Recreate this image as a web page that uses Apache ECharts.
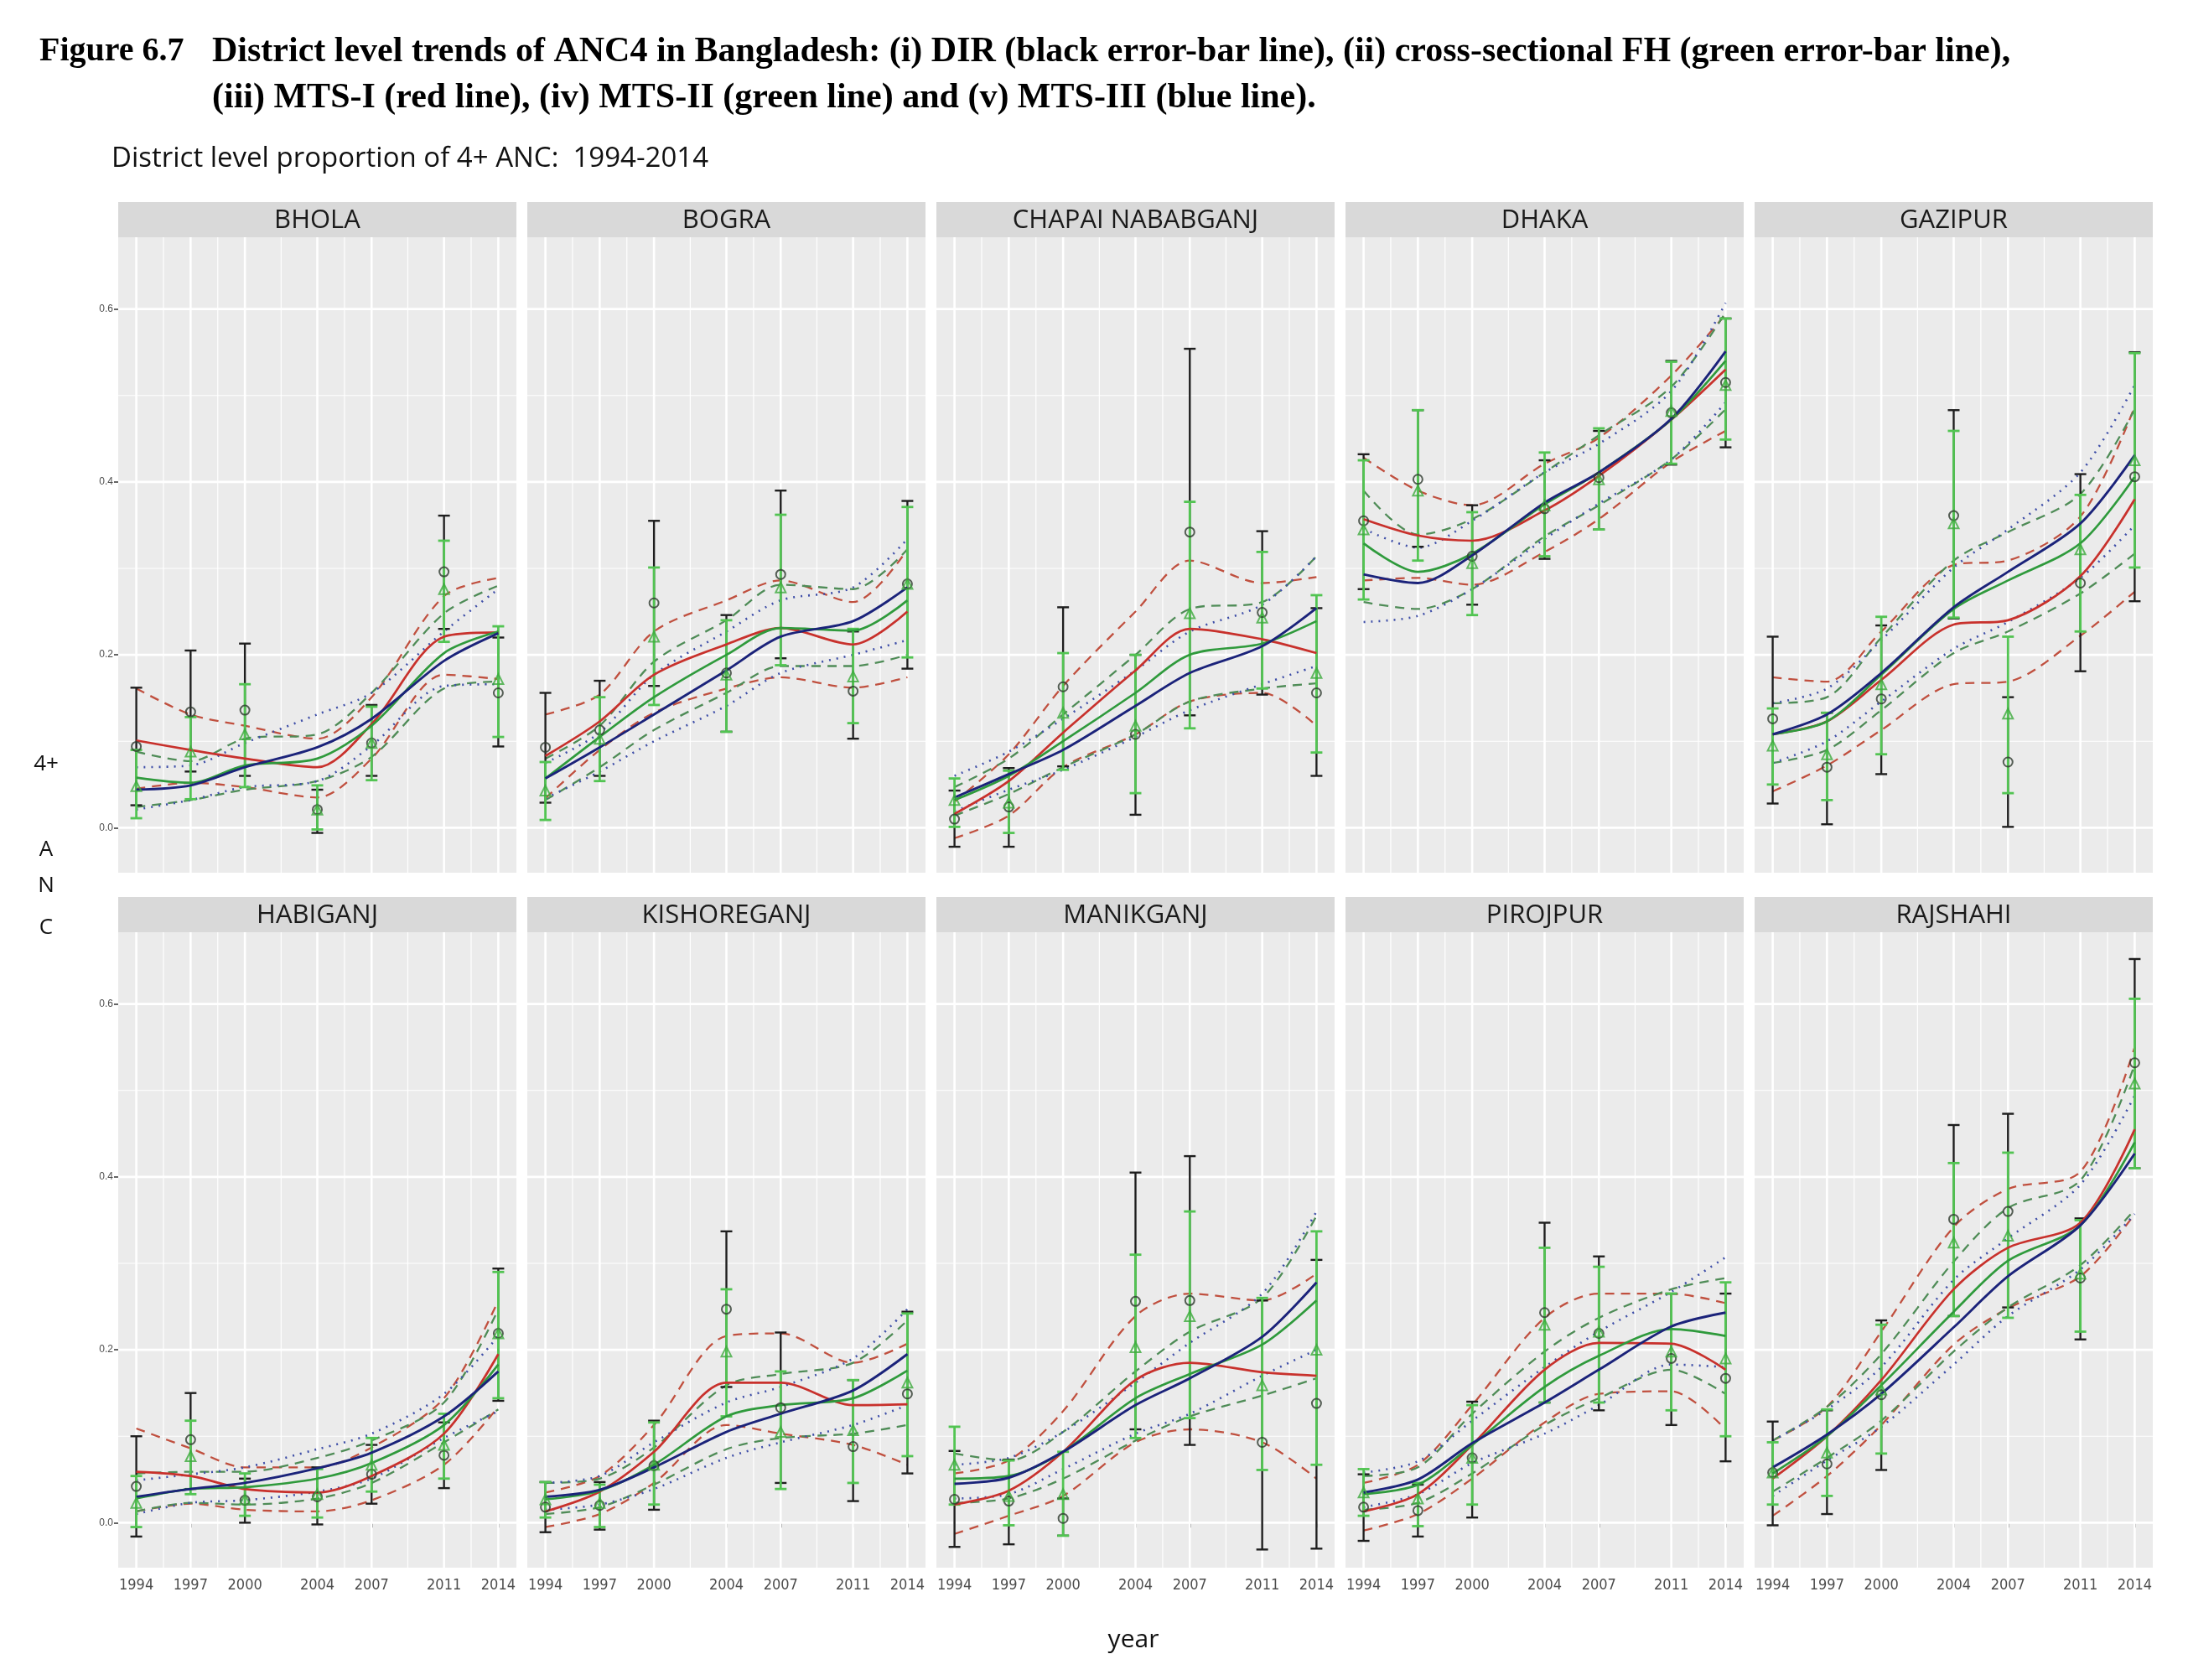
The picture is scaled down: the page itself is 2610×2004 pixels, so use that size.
<!DOCTYPE html>
<html>
<head>
<meta charset="utf-8">
<title>District level trends of ANC4 in Bangladesh</title>
<script src="https://cdn.jsdelivr.net/npm/echarts@6/dist/echarts.min.js"></script>
<style>
  html, body { margin: 0; padding: 0; background: #fff; }
  #chart { width: 2610px; height: 2004px; }
</style>
</head>
<body>
<div id="chart"></div>
<script>
// survey years and axis breaks
const districts = ['BHOLA', 'BOGRA', 'CHAPAI NABABGANJ', 'DHAKA', 'GAZIPUR',
  'HABIGANJ', 'KISHOREGANJ', 'MANIKGANJ', 'PIROJPUR', 'RAJSHAHI'];
const years = [1994, 1997, 2000, 2004, 2007, 2011, 2014];
const minorYears = [1995.5, 1998.5, 2002, 2005.5, 2009, 2012.5];
const yTicks = [0, 0.2, 0.4, 0.6];
const yMinor = [0.1, 0.3, 0.5];

// DIR (black error bars, circles) - one row per district
const dirEst = [
  [0.094, 0.134, 0.136, 0.021, 0.098, 0.296, 0.156],
  [0.093, 0.113, 0.26, 0.179, 0.293, 0.158, 0.282],
  [0.01, 0.024, 0.163, 0.108, 0.342, 0.249, 0.156],
  [0.355, 0.403, 0.314, 0.369, 0.405, 0.48, 0.515],
  [0.126, 0.07, 0.149, 0.361, 0.076, 0.283, 0.406],
  [0.042, 0.096, 0.026, 0.03, 0.056, 0.078, 0.219],
  [0.018, 0.02, 0.066, 0.247, 0.133, 0.088, 0.149],
  [0.027, 0.025, 0.005, 0.256, 0.257, 0.093, 0.138],
  [0.018, 0.014, 0.075, 0.243, 0.219, 0.19, 0.167],
  [0.058, 0.068, 0.148, 0.351, 0.36, 0.283, 0.532]
];
const dirLow = [
  [0.026, 0.065, 0.06, -0.006, 0.06, 0.23, 0.094],
  [0.029, 0.06, 0.164, 0.111, 0.196, 0.103, 0.184],
  [-0.022, -0.022, 0.071, 0.015, 0.13, 0.154, 0.06],
  [0.276, 0.325, 0.258, 0.311, 0.345, 0.42, 0.44],
  [0.028, 0.004, 0.062, 0.242, 0.001, 0.181, 0.262],
  [-0.016, 0.039, 0.0, -0.002, 0.022, 0.04, 0.141],
  [-0.011, -0.008, 0.015, 0.157, 0.046, 0.025, 0.057],
  [-0.028, -0.025, -0.015, 0.108, 0.09, -0.031, -0.03],
  [-0.021, -0.016, 0.006, 0.139, 0.13, 0.113, 0.071],
  [-0.003, 0.01, 0.061, 0.239, 0.249, 0.212, 0.41]
];
const dirHigh = [
  [0.162, 0.205, 0.213, 0.044, 0.142, 0.361, 0.22],
  [0.156, 0.17, 0.355, 0.246, 0.39, 0.227, 0.378],
  [0.043, 0.069, 0.255, 0.2, 0.554, 0.343, 0.254],
  [0.432, 0.483, 0.373, 0.425, 0.459, 0.54, 0.589],
  [0.221, 0.133, 0.234, 0.483, 0.151, 0.409, 0.55],
  [0.1, 0.15, 0.051, 0.064, 0.09, 0.116, 0.294],
  [0.047, 0.047, 0.118, 0.337, 0.22, 0.165, 0.244],
  [0.083, 0.073, 0.028, 0.405, 0.424, 0.257, 0.304],
  [0.056, 0.044, 0.14, 0.347, 0.308, 0.265, 0.265],
  [0.117, 0.13, 0.234, 0.46, 0.473, 0.352, 0.652]
];

// cross-sectional FH (green error bars, triangles)
const fhEst = [
  [0.048, 0.088, 0.108, 0.021, 0.098, 0.276, 0.172],
  [0.043, 0.103, 0.221, 0.177, 0.278, 0.175, 0.282],
  [0.032, 0.029, 0.133, 0.118, 0.248, 0.243, 0.179],
  [0.345, 0.39, 0.306, 0.373, 0.403, 0.482, 0.512],
  [0.095, 0.085, 0.166, 0.352, 0.132, 0.322, 0.425],
  [0.023, 0.077, 0.027, 0.033, 0.067, 0.09, 0.219],
  [0.027, 0.023, 0.067, 0.198, 0.105, 0.107, 0.162],
  [0.067, 0.031, 0.033, 0.203, 0.239, 0.159, 0.2],
  [0.035, 0.028, 0.075, 0.229, 0.221, 0.198, 0.19],
  [0.058, 0.081, 0.154, 0.324, 0.332, 0.288, 0.508]
];
const fhLow = [
  [0.011, 0.033, 0.047, -0.002, 0.055, 0.215, 0.105],
  [0.009, 0.054, 0.142, 0.111, 0.188, 0.121, 0.197],
  [0.001, -0.006, 0.067, 0.04, 0.115, 0.161, 0.087],
  [0.264, 0.309, 0.246, 0.314, 0.345, 0.421, 0.449],
  [0.05, 0.032, 0.085, 0.243, 0.04, 0.227, 0.301],
  [-0.005, 0.033, 0.008, 0.006, 0.036, 0.051, 0.144],
  [0.006, -0.005, 0.021, 0.123, 0.039, 0.046, 0.077],
  [0.021, -0.003, -0.015, 0.098, 0.121, 0.061, 0.067],
  [0.008, -0.004, 0.021, 0.139, 0.139, 0.13, 0.1],
  [0.021, 0.031, 0.08, 0.239, 0.237, 0.221, 0.41]
];
const fhHigh = [
  [0.09, 0.128, 0.166, 0.049, 0.14, 0.332, 0.233],
  [0.076, 0.151, 0.301, 0.24, 0.362, 0.23, 0.371],
  [0.057, 0.066, 0.202, 0.2, 0.377, 0.319, 0.269],
  [0.425, 0.483, 0.365, 0.434, 0.462, 0.539, 0.589],
  [0.138, 0.133, 0.244, 0.459, 0.221, 0.385, 0.549],
  [0.054, 0.118, 0.057, 0.062, 0.098, 0.126, 0.29],
  [0.047, 0.044, 0.116, 0.27, 0.175, 0.165, 0.242],
  [0.111, 0.072, 0.082, 0.31, 0.36, 0.26, 0.337],
  [0.062, 0.046, 0.136, 0.318, 0.296, 0.265, 0.278],
  [0.093, 0.131, 0.229, 0.416, 0.428, 0.35, 0.606]
];

// MTS-I (red)
const mts1 = [
  [0.101, 0.09, 0.08, 0.07, 0.12, 0.221, 0.226],
  [0.083, 0.123, 0.177, 0.212, 0.231, 0.212, 0.25],
  [0.016, 0.054, 0.11, 0.182, 0.23, 0.218, 0.202],
  [0.357, 0.338, 0.332, 0.367, 0.407, 0.472, 0.53],
  [0.108, 0.123, 0.171, 0.235, 0.24, 0.291, 0.38],
  [0.059, 0.054, 0.039, 0.035, 0.054, 0.103, 0.195],
  [0.013, 0.036, 0.082, 0.162, 0.162, 0.136, 0.137],
  [0.021, 0.037, 0.082, 0.165, 0.185, 0.174, 0.17],
  [0.013, 0.033, 0.09, 0.177, 0.208, 0.207, 0.177],
  [0.051, 0.1, 0.165, 0.27, 0.318, 0.347, 0.455]
];
const mts1Low = [
  [0.045, 0.052, 0.047, 0.035, 0.08, 0.177, 0.172],
  [0.034, 0.09, 0.133, 0.161, 0.174, 0.162, 0.174],
  [-0.012, 0.014, 0.07, 0.108, 0.146, 0.156, 0.118],
  [0.286, 0.289, 0.281, 0.319, 0.357, 0.423, 0.459],
  [0.042, 0.072, 0.113, 0.166, 0.169, 0.222, 0.273],
  [0.013, 0.022, 0.015, 0.013, 0.026, 0.067, 0.134],
  [-0.005, 0.01, 0.046, 0.113, 0.103, 0.09, 0.067],
  [-0.013, 0.008, 0.031, 0.093, 0.108, 0.093, 0.051],
  [-0.009, 0.01, 0.051, 0.116, 0.149, 0.152, 0.108],
  [0.008, 0.054, 0.113, 0.206, 0.248, 0.285, 0.357]
];
const mts1High = [
  [0.161, 0.131, 0.118, 0.103, 0.151, 0.268, 0.289],
  [0.131, 0.154, 0.227, 0.263, 0.286, 0.261, 0.322],
  [0.03, 0.085, 0.164, 0.25, 0.309, 0.283, 0.29],
  [0.428, 0.39, 0.373, 0.421, 0.451, 0.523, 0.594],
  [0.174, 0.169, 0.227, 0.304, 0.309, 0.36, 0.487],
  [0.109, 0.086, 0.064, 0.064, 0.087, 0.144, 0.257],
  [0.035, 0.054, 0.113, 0.216, 0.219, 0.185, 0.207],
  [0.057, 0.072, 0.129, 0.239, 0.265, 0.257, 0.288],
  [0.046, 0.067, 0.136, 0.237, 0.265, 0.265, 0.254],
  [0.095, 0.134, 0.221, 0.342, 0.386, 0.406, 0.55]
];

// MTS-II (green)
const mts2 = [
  [0.058, 0.052, 0.072, 0.08, 0.118, 0.202, 0.227],
  [0.057, 0.105, 0.151, 0.2, 0.231, 0.228, 0.263],
  [0.032, 0.06, 0.1, 0.156, 0.2, 0.213, 0.239],
  [0.329, 0.296, 0.317, 0.374, 0.411, 0.472, 0.54],
  [0.108, 0.123, 0.177, 0.253, 0.286, 0.329, 0.406],
  [0.028, 0.039, 0.041, 0.051, 0.069, 0.113, 0.183],
  [0.027, 0.037, 0.067, 0.123, 0.136, 0.144, 0.176],
  [0.051, 0.054, 0.082, 0.144, 0.172, 0.206, 0.257],
  [0.033, 0.044, 0.09, 0.157, 0.193, 0.224, 0.216],
  [0.057, 0.1, 0.159, 0.244, 0.303, 0.344, 0.44]
];
const mts2Low = [
  [0.024, 0.032, 0.044, 0.054, 0.082, 0.161, 0.169],
  [0.032, 0.07, 0.113, 0.156, 0.187, 0.187, 0.2],
  [0.014, 0.039, 0.07, 0.108, 0.146, 0.161, 0.167],
  [0.261, 0.253, 0.276, 0.337, 0.373, 0.426, 0.484],
  [0.075, 0.09, 0.136, 0.202, 0.227, 0.271, 0.317],
  [0.013, 0.023, 0.021, 0.028, 0.046, 0.093, 0.131],
  [0.01, 0.018, 0.044, 0.085, 0.098, 0.103, 0.113],
  [0.023, 0.028, 0.051, 0.095, 0.123, 0.147, 0.167],
  [0.015, 0.023, 0.057, 0.113, 0.144, 0.177, 0.149],
  [0.036, 0.075, 0.118, 0.198, 0.249, 0.298, 0.362]
];
const mts2High = [
  [0.088, 0.077, 0.103, 0.108, 0.156, 0.248, 0.28],
  [0.08, 0.118, 0.192, 0.24, 0.281, 0.276, 0.322],
  [0.047, 0.08, 0.131, 0.2, 0.253, 0.261, 0.314],
  [0.39, 0.339, 0.357, 0.411, 0.454, 0.51, 0.596],
  [0.144, 0.151, 0.22, 0.309, 0.342, 0.386, 0.484],
  [0.057, 0.059, 0.059, 0.075, 0.095, 0.139, 0.247],
  [0.046, 0.051, 0.087, 0.159, 0.172, 0.185, 0.234],
  [0.08, 0.072, 0.105, 0.175, 0.221, 0.26, 0.355],
  [0.054, 0.064, 0.126, 0.198, 0.237, 0.27, 0.283],
  [0.095, 0.134, 0.195, 0.302, 0.364, 0.396, 0.53]
];

// MTS-III (blue)
const mts3 = [
  [0.044, 0.049, 0.07, 0.093, 0.126, 0.193, 0.225],
  [0.057, 0.093, 0.131, 0.182, 0.221, 0.239, 0.278],
  [0.035, 0.062, 0.09, 0.141, 0.179, 0.21, 0.254],
  [0.293, 0.283, 0.315, 0.376, 0.411, 0.473, 0.551],
  [0.108, 0.131, 0.179, 0.255, 0.296, 0.352, 0.431],
  [0.03, 0.039, 0.046, 0.063, 0.081, 0.123, 0.175],
  [0.03, 0.038, 0.064, 0.105, 0.126, 0.153, 0.195],
  [0.045, 0.052, 0.082, 0.136, 0.167, 0.215, 0.278],
  [0.035, 0.05, 0.092, 0.139, 0.177, 0.227, 0.243],
  [0.064, 0.102, 0.149, 0.226, 0.285, 0.344, 0.427]
];
const mts3Low = [
  [0.021, 0.032, 0.047, 0.054, 0.095, 0.164, 0.166],
  [0.034, 0.065, 0.1, 0.141, 0.179, 0.2, 0.217],
  [0.019, 0.044, 0.067, 0.105, 0.136, 0.166, 0.187],
  [0.238, 0.245, 0.276, 0.334, 0.375, 0.426, 0.492],
  [0.075, 0.1, 0.146, 0.207, 0.238, 0.289, 0.35],
  [0.01, 0.023, 0.026, 0.036, 0.051, 0.098, 0.129],
  [0.015, 0.021, 0.039, 0.075, 0.093, 0.113, 0.136],
  [0.028, 0.033, 0.062, 0.103, 0.126, 0.17, 0.2],
  [0.018, 0.033, 0.069, 0.103, 0.136, 0.183, 0.18],
  [0.031, 0.072, 0.111, 0.183, 0.239, 0.293, 0.357]
];
const mts3High = [
  [0.07, 0.072, 0.098, 0.131, 0.156, 0.227, 0.276],
  [0.075, 0.11, 0.177, 0.227, 0.263, 0.278, 0.334],
  [0.06, 0.088, 0.126, 0.182, 0.227, 0.258, 0.314],
  [0.346, 0.324, 0.355, 0.411, 0.444, 0.505, 0.607],
  [0.144, 0.161, 0.217, 0.301, 0.345, 0.411, 0.512],
  [0.049, 0.056, 0.064, 0.085, 0.103, 0.149, 0.216],
  [0.046, 0.054, 0.093, 0.139, 0.157, 0.19, 0.247],
  [0.067, 0.075, 0.105, 0.162, 0.208, 0.265, 0.36],
  [0.058, 0.071, 0.118, 0.18, 0.221, 0.267, 0.307],
  [0.095, 0.131, 0.18, 0.281, 0.329, 0.391, 0.494]
];

const chart = echarts.init(document.getElementById('chart'))

const panelLeft = 141, panelStep = 488, panelWidth = 475, panelHeight = 758
const rowTop = [283, 1112]
const stripHeight = 42

function pairs(vals) {
  return years.map((y, j) => [y, vals[j]])
}
function bars(lo, hi) {
  return years.map((y, j) => [y, lo[j], hi[j]])
}

// error bar with caps, drawn through the axis scales
function errorBar(color, width) {
  return function (params, api) {
    const lo = api.coord([api.value(0), api.value(1)])
    const hi = api.coord([api.value(0), api.value(2)])
    const cap = 7
    const style = { stroke: color, lineWidth: width }
    return {
      type: 'group',
      children: [
        { type: 'line', shape: { x1: lo[0], y1: lo[1], x2: hi[0], y2: hi[1] }, style: style },
        { type: 'line', shape: { x1: hi[0] - cap, y1: hi[1], x2: hi[0] + cap, y2: hi[1] }, style: style },
        { type: 'line', shape: { x1: lo[0] - cap, y1: lo[1], x2: lo[0] + cap, y2: lo[1] }, style: style }
      ]
    }
  }
}

// white panel grid lines: vertical for years, horizontal for proportions
function vGrid(params, api) {
  const cs = params.coordSys
  const p = api.coord([api.value(0), 0])
  return { type: 'line', shape: { x1: p[0], y1: cs.y, x2: p[0], y2: cs.y + cs.height },
    style: { stroke: '#FFFFFF', lineWidth: api.value(1) } }
}
function hGrid(params, api) {
  const cs = params.coordSys
  const p = api.coord([1994, api.value(0)])
  return { type: 'line', shape: { x1: cs.x, y1: p[1], x2: cs.x + cs.width, y2: p[1] },
    style: { stroke: '#FFFFFF', lineWidth: api.value(1) } }
}

const grids = [], xAxes = [], yAxes = [], series = [], graphics = []

districts.forEach((name, i) => {
  const row = Math.floor(i / 5), col = i % 5
  const left = panelLeft + col * panelStep
  const top = rowTop[row]
  grids.push({
    left: left, top: top, width: panelWidth, height: panelHeight,
    show: true, backgroundColor: '#EBEBEB', borderWidth: 0
  })
  xAxes.push({
    gridIndex: i, type: 'value', min: 1993, max: 2015,
    axisLine: { show: false },
    splitLine: { show: false },
    axisTick: { show: row === 1, customValues: years, length: 6, lineStyle: { color: '#333', width: 1.6 } },
    axisLabel: { show: row === 1, customValues: years, color: '#4D4D4D', fontSize: 18, margin: 12,
      fontFamily: '"Liberation Sans Narrow", "DejaVu Sans Condensed", "Liberation Sans"', formatter: v => String(v) }
  })
  yAxes.push({
    gridIndex: i, type: 'value', min: -0.052, max: 0.683,
    axisLine: { show: false },
    splitLine: { show: false },
    axisTick: { show: col === 0, customValues: yTicks, length: 5, lineStyle: { color: '#333', width: 1.5 } },
    axisLabel: { show: col === 0, customValues: yTicks, color: '#4D4D4D', fontSize: 12, margin: 6,
      fontFamily: 'Liberation Sans', formatter: v => v.toFixed(1) }
  })

  // facet strip
  graphics.push({
    type: 'rect', left: left, top: top - stripHeight,
    shape: { width: panelWidth, height: stripHeight },
    style: { fill: '#D9D9D9' }
  })
  graphics.push({
    type: 'text', x: left + panelWidth / 2, y: top - stripHeight / 2 + 1,
    style: { text: name, fill: '#1A1A1A', font: '31px "Open Sans"', align: 'center', verticalAlign: 'middle' }
  })

  const ax = { xAxisIndex: i, yAxisIndex: i, silent: true, animation: false }

  series.push(Object.assign({
    type: 'custom', z: 1, encode: { x: 0 }, renderItem: vGrid,
    data: [].concat(years.map(v => [v, 2.6]), minorYears.map(v => [v, 1.2]))
  }, ax))
  series.push(Object.assign({
    type: 'custom', z: 1, encode: { y: 0 }, renderItem: hGrid,
    data: [].concat(yTicks.map(v => [v, 2.6]), yMinor.map(v => [v, 1.2]))
  }, ax))

  function curve(vals, color, width, type, z) {
    return Object.assign({
      type: 'line', data: pairs(vals), smooth: 0.3, symbol: 'none', z: z,
      lineStyle: { color: color, width: width, type: type }
    }, ax)
  }

  // MTS uncertainty bounds
  series.push(curve(mts1Low[i], '#C0503F', 2.3, [11, 8], 2))
  series.push(curve(mts1High[i], '#C0503F', 2.3, [11, 8], 2))
  series.push(curve(mts2Low[i], '#4F8C57', 2.3, [11, 8], 2))
  series.push(curve(mts2High[i], '#4F8C57', 2.3, [11, 8], 2))
  series.push(curve(mts3Low[i], '#3F4FA8', 2.6, [2, 7], 2))
  series.push(curve(mts3High[i], '#3F4FA8', 2.6, [2, 7], 2))

  // DIR and FH error bars
  series.push(Object.assign({
    type: 'custom', data: bars(dirLow[i], dirHigh[i]), z: 3,
    encode: { x: 0, y: [1, 2] }, renderItem: errorBar('#1E1E1E', 2.4)
  }, ax))
  series.push(Object.assign({
    type: 'custom', data: bars(fhLow[i], fhHigh[i]), z: 4,
    encode: { x: 0, y: [1, 2] }, renderItem: errorBar('#52C452', 2.8)
  }, ax))

  // MTS central lines
  series.push(curve(mts1[i], '#C8312C', 2.7, 'solid', 5))
  series.push(curve(mts2[i], '#2F9A3C', 2.7, 'solid', 5))
  series.push(curve(mts3[i], '#1B237A', 2.9, 'solid', 5))

  // point estimates
  series.push(Object.assign({
    type: 'scatter', data: pairs(dirEst[i]), symbol: 'circle', symbolSize: 11, z: 6,
    itemStyle: { color: 'rgba(0,0,0,0)', borderColor: '#2E3A2E', borderWidth: 2 }
  }, ax))
  series.push(Object.assign({
    type: 'scatter', data: pairs(fhEst[i]), symbol: 'triangle', symbolSize: 12, z: 6,
    itemStyle: { color: 'rgba(0,0,0,0)', borderColor: '#3DAA3D', borderWidth: 2 }
  }, ax))
})

// titles and axis titles
const serif = 'bold 42px "Liberation Serif"'
const sans = '"Open Sans"'
graphics.push(
  { type: 'text', x: 47, y: 62, style: { text: 'Figure 6.7', font: 'bold 40px "Liberation Serif"', fill: '#000', verticalAlign: 'middle' } },
  { type: 'text', x: 253, y: 62, style: { text: 'District level trends of ANC4 in Bangladesh: (i) DIR (black error-bar line), (ii) cross-sectional FH (green error-bar line),', font: serif, fill: '#000', verticalAlign: 'middle' } },
  { type: 'text', x: 253, y: 117, style: { text: '(iii) MTS-I (red line), (iv) MTS-II (green line) and (v) MTS-III (blue line).', font: serif, fill: '#000', verticalAlign: 'middle' } },
  { type: 'text', x: 133, y: 190, style: { text: 'District level proportion of 4+ ANC:  1994-2014', font: '33px ' + sans, fill: '#111', verticalAlign: 'middle' } },
  { type: 'text', x: 55, y: 912, style: { text: '4+', font: '26px ' + sans, fill: '#111', align: 'center', verticalAlign: 'middle' } },
  { type: 'text', x: 55, y: 1014, style: { text: 'A', font: '26px ' + sans, fill: '#111', align: 'center', verticalAlign: 'middle' } },
  { type: 'text', x: 55, y: 1057, style: { text: 'N', font: '26px ' + sans, fill: '#111', align: 'center', verticalAlign: 'middle' } },
  { type: 'text', x: 55, y: 1107, style: { text: 'C', font: '26px ' + sans, fill: '#111', align: 'center', verticalAlign: 'middle' } },
  { type: 'text', x: 1352, y: 1956, style: { text: 'year', font: '30px ' + sans, fill: '#111', align: 'center', verticalAlign: 'middle' } }
)

chart.setOption({
  animation: false,
  backgroundColor: '#FFFFFF',
  grid: grids,
  xAxis: xAxes,
  yAxis: yAxes,
  graphic: graphics,
  series: series
})
</script>
</body>
</html>
